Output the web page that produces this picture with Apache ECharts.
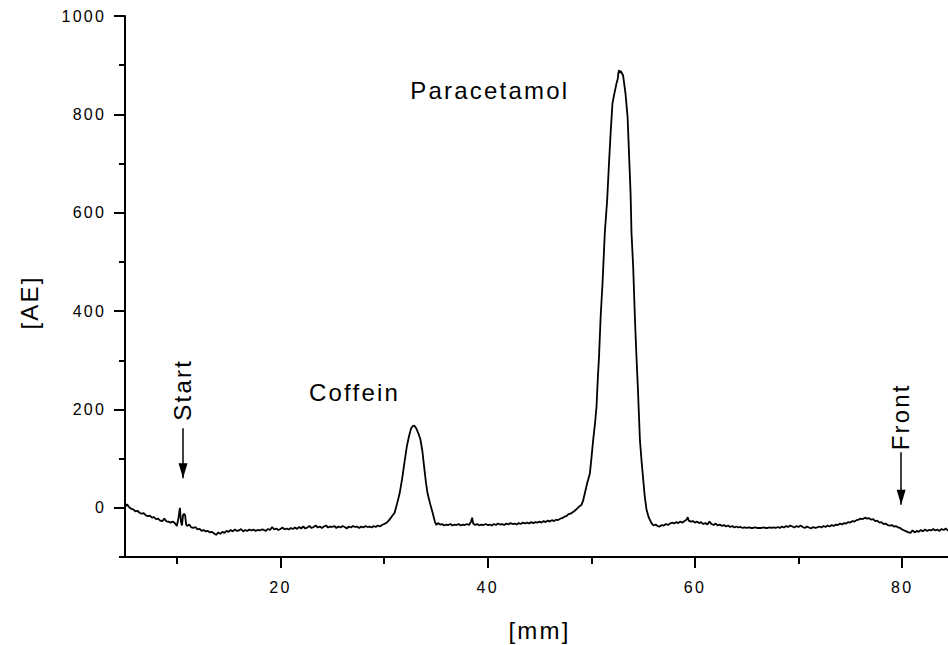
<!DOCTYPE html>
<html>
<head>
<meta charset="utf-8">
<script src="https://cdn.jsdelivr.net/npm/echarts@6/dist/echarts.min.js"></script>
<style>
  html, body { margin: 0; padding: 0; background: #fff; }
  #main { width: 948px; height: 645px; }
  #main text { letter-spacing: 2.2px; }
</style>
</head>
<body>
<div id="main"></div>
<script>
// ---- data ----
const xMajorTicks = [20, 40, 60, 80];
const xMinorTicks = [10, 30, 50, 70];
const yMajorTicks = [0, 200, 400, 600, 800, 1000];
const yMinorTicks = [-100, 100, 300, 500, 700, 900];

// densitogram trace: [position mm, signal AE]
const trace = [
[5.0,2],[5.2,7],[5.4,1],[5.6,-2],[5.8,-3],[6.0,-7],[6.2,-6],[6.4,-10],[6.6,-12],[6.8,-11],
[7.0,-15],[7.2,-17],[7.4,-16],[7.6,-20],[7.8,-19],[8.0,-23],[8.2,-22],[8.4,-26],[8.6,-27],[8.8,-22],
[9.0,-28],[9.2,-28],[9.4,-30],[9.6,-28],[9.8,-31],[10.0,-37],[10.15,-22],[10.3,0],[10.4,-28],[10.5,-36],
[10.6,-15],[10.7,-12],[10.8,-15],[10.9,-34],[11.0,-37],[11.2,-34],[11.4,-40],[11.6,-41],[11.8,-39],[12.0,-44],
[12.2,-43],[12.4,-47],[12.6,-45],[12.8,-48],[13.0,-47],[13.2,-50],[13.4,-49],[13.6,-52],[13.8,-55],[14.0,-50],
[14.2,-53],[14.4,-49],[14.6,-51],[14.8,-47],[15.0,-49],[15.2,-45],[15.4,-48],[15.6,-44],[15.8,-47],[16.0,-46],
[16.2,-43],[16.4,-48],[16.6,-45],[16.8,-47],[17.0,-44],[17.2,-46],[17.4,-44],[17.6,-47],[17.8,-45],[18.0,-46],
[18.2,-44],[18.4,-45],[18.6,-47],[18.8,-43],[19.0,-45],[19.2,-39],[19.4,-44],[19.6,-42],[19.8,-45],[20.0,-43],
[20.2,-40],[20.4,-44],[20.6,-42],[20.8,-44],[21.0,-41],[21.2,-43],[21.4,-40],[21.6,-43],[21.8,-39],[22.0,-42],
[22.2,-38],[22.4,-42],[22.6,-40],[22.8,-37],[23.0,-41],[23.2,-39],[23.4,-36],[23.6,-40],[23.8,-38],[24.0,-41],
[24.2,-38],[24.4,-36],[24.6,-40],[24.8,-38],[25.0,-39],[25.2,-37],[25.4,-41],[25.6,-38],[25.8,-40],[26.0,-37],
[26.2,-39],[26.4,-42],[26.6,-38],[26.8,-40],[27.0,-37],[27.2,-39],[27.4,-38],[27.6,-41],[27.8,-38],[28.0,-40],
[28.2,-37],[28.4,-39],[28.6,-38],[28.8,-40],[29.0,-37],[29.2,-39],[29.4,-36],[29.6,-38],[29.8,-35],[30.0,-33],
[30.2,-31],[30.4,-27],[30.6,-22],[30.8,-16],[31.0,-11],[31.25,8],[31.5,29],[31.75,60],[32.0,97],[32.2,125],
[32.4,145],[32.6,161],[32.75,166],[32.9,167],[33.1,162],[33.3,152],[33.5,140],[33.7,115],[33.9,77],[34.05,50],
[34.2,29],[34.45,8],[34.7,-11],[34.9,-28],[35.05,-35],[35.2,-31],[35.4,-34],[35.6,-33],[35.8,-36],[36.0,-34],
[36.2,-35],[36.4,-33],[36.6,-36],[36.8,-34],[37.0,-35],[37.2,-33],[37.4,-36],[37.6,-34],[37.8,-35],[38.0,-33],
[38.2,-35],[38.4,-28],[38.5,-20],[38.6,-32],[38.8,-35],[39.0,-33],[39.2,-36],[39.4,-34],[39.6,-35],[39.8,-33],
[40.0,-35],[40.2,-34],[40.4,-36],[40.6,-33],[40.8,-35],[41.0,-32],[41.2,-34],[41.4,-33],[41.6,-35],[41.8,-32],
[42.0,-34],[42.2,-31],[42.4,-33],[42.6,-32],[42.8,-34],[43.0,-31],[43.2,-33],[43.4,-30],[43.6,-32],[43.8,-30],
[44.0,-32],[44.2,-29],[44.4,-31],[44.6,-29],[44.8,-30],[45.0,-28],[45.2,-30],[45.4,-27],[45.6,-29],[45.8,-26],
[46.0,-28],[46.2,-25],[46.4,-27],[46.6,-24],[46.8,-25],[47.0,-22],[47.2,-21],[47.4,-18],[47.6,-17],[47.8,-13],
[48.0,-12],[48.2,-9],[48.4,-6],[48.6,-2],[48.8,2],[49.05,6],[49.2,14],[49.37,29],[49.6,50],[49.86,70],
[50.0,98],[50.18,138],[50.35,170],[50.5,205],[50.62,260],[50.75,310],[50.9,388],[51.08,456],[51.3,558],[51.53,626],
[51.72,706],[51.88,768],[52.04,822],[52.2,840],[52.43,863],[52.55,872],[52.62,885],[52.69,890],[52.75,884],[52.82,888],
[52.9,886],[53.07,879],[53.3,842],[53.5,795],[53.65,714],[53.79,639],[53.88,558],[54.04,490],[54.2,390],[54.33,321],
[54.5,240],[54.69,138],[54.85,95],[55.01,57],[55.15,25],[55.33,-4],[55.55,-20],[55.81,-31],[56.0,-36],[56.2,-34],
[56.4,-37],[56.6,-38],[56.8,-35],[57.0,-36],[57.2,-33],[57.4,-35],[57.6,-32],[57.8,-30],[58.0,-32],[58.2,-29],
[58.4,-31],[58.6,-28],[58.8,-30],[59.0,-27],[59.2,-24],[59.3,-19],[59.4,-26],[59.6,-28],[59.8,-27],[60.0,-30],
[60.2,-28],[60.4,-31],[60.6,-29],[60.8,-33],[61.0,-31],[61.2,-34],[61.4,-28],[61.6,-33],[61.8,-35],[62.0,-32],
[62.2,-36],[62.4,-34],[62.6,-37],[62.8,-35],[63.0,-38],[63.2,-36],[63.4,-39],[63.6,-37],[63.8,-40],[64.0,-38],
[64.2,-40],[64.4,-39],[64.6,-41],[64.8,-40],[65.0,-41],[65.2,-40],[65.4,-41],[65.6,-41],[65.8,-40],[66.0,-41],
[66.2,-41],[66.4,-41],[66.6,-40],[66.8,-41],[67.0,-41],[67.2,-40],[67.4,-41],[67.6,-40],[67.8,-41],[68.0,-39],
[68.2,-41],[68.4,-38],[68.6,-40],[68.8,-37],[69.0,-39],[69.2,-36],[69.4,-38],[69.6,-40],[69.8,-37],[70.0,-39],
[70.2,-36],[70.4,-39],[70.6,-41],[70.8,-38],[71.0,-40],[71.2,-42],[71.4,-39],[71.6,-41],[71.8,-40],[72.0,-38],
[72.2,-40],[72.4,-37],[72.6,-39],[72.8,-36],[73.0,-38],[73.2,-35],[73.4,-37],[73.6,-34],[73.8,-35],[74.0,-32],
[74.2,-34],[74.4,-31],[74.6,-32],[74.8,-29],[75.0,-30],[75.2,-27],[75.4,-28],[75.6,-25],[75.8,-24],[76.0,-22],
[76.2,-23],[76.4,-20],[76.6,-22],[76.8,-21],[77.0,-24],[77.2,-23],[77.4,-27],[77.6,-26],[77.8,-30],[78.0,-29],
[78.2,-33],[78.4,-32],[78.6,-35],[78.8,-36],[79.0,-35],[79.2,-38],[79.4,-37],[79.6,-40],[79.8,-41],[80.0,-44],
[80.2,-46],[80.4,-48],[80.6,-50],[80.8,-51],[81.0,-46],[81.2,-50],[81.4,-47],[81.6,-49],[81.8,-45],[82.0,-48],
[82.2,-44],[82.4,-47],[82.6,-45],[82.8,-46],[83.0,-43],[83.2,-46],[83.4,-44],[83.6,-47],[83.8,-43],[84.0,-45],
[84.2,-42],[84.4,-46],[84.6,-44],[84.8,-45],[85.0,-44]
];

// annotations (data coordinates)
const annoText = ['Paracetamol', 'Coffein', 'Start', 'Front'];
const annoX = [40.2, 27.15, 10.57, 79.8];
const annoY = [849, 235, 240, 185];
const annoVertical = [false, false, true, true];

// arrows (data coordinates): x, tail value, tip value
const arrowX = [10.6, 79.9];
const arrowFrom = [162, 113];
const arrowTo = [60, 6];

// ---- chart ----
const FONT = '"Liberation Sans", Arial, sans-serif';
const chart = echarts.init(document.getElementById('main'), null, { renderer: 'svg' });

const plain = v => String(v);

const baseX = {
  type: 'value', min: 5, max: 85, position: 'bottom',
  axisLine: { onZero: false, show: true, lineStyle: { color: '#000', width: 2 } },
  splitLine: { show: false }
};
const baseY = {
  type: 'value', min: -100, max: 1000, position: 'left',
  axisLine: { onZero: false, show: true, lineStyle: { color: '#000', width: 2 } },
  splitLine: { show: false }
};

const option = {
  animation: false,
  backgroundColor: '#fff',
  grid: { left: 125, right: -6, top: 16, bottom: 88, outerBoundsMode: 'none', containLabel: false },
  xAxis: [
    Object.assign({}, baseX, {
      name: '[mm]', nameLocation: 'middle', nameGap: 61,
      nameTextStyle: { fontFamily: FONT, fontSize: 24, color: '#000' },
      axisTick: { show: true, length: 11, lineStyle: { color: '#000', width: 2 }, customValues: xMajorTicks },
      axisLabel: { show: true, margin: 22, fontFamily: FONT, fontSize: 16, color: '#000',
                   customValues: xMajorTicks, formatter: plain }
    }),
    Object.assign({}, baseX, {
      axisLine: { onZero: false, show: false },
      axisTick: { show: true, length: 7, lineStyle: { color: '#000', width: 2 }, customValues: xMinorTicks },
      axisLabel: { show: false }
    })
  ],
  yAxis: [
    Object.assign({}, baseY, {
      name: '[AE]', nameLocation: 'middle', nameGap: 84, nameRotate: 90,
      nameTextStyle: { fontFamily: FONT, fontSize: 24, color: '#000', padding: [0, 32, 0, 0] },
      axisTick: { show: true, length: 11, lineStyle: { color: '#000', width: 2 }, customValues: yMajorTicks },
      axisLabel: { show: true, margin: 19, fontFamily: FONT, fontSize: 16, color: '#000',
                   customValues: yMajorTicks, formatter: plain }
    }),
    Object.assign({}, baseY, {
      axisLine: { onZero: false, show: false },
      axisTick: { show: true, length: 6, lineStyle: { color: '#000', width: 2 }, customValues: yMinorTicks },
      axisLabel: { show: false }
    })
  ],
  series: [{
    type: 'line',
    xAxisIndex: 0, yAxisIndex: 0,
    data: trace,
    showSymbol: false,
    symbol: 'none',
    lineStyle: { color: '#000', width: 1.8 },
    emphasis: { disabled: true },
    silent: true,
    markPoint: {
      silent: true,
      symbol: 'circle', symbolSize: 0,
      itemStyle: { color: 'rgba(0,0,0,0)' },
      data: annoText.map((t, i) => ({
        name: t, coord: [annoX[i], annoY[i]],
        label: {
          show: true, position: 'inside', formatter: t,
          rotate: annoVertical[i] ? 90 : 0,
          fontFamily: FONT, fontSize: 24, color: '#000'
        }
      }))
    },
    markLine: {
      silent: true,
      animation: false,
      symbol: ['none', 'triangle'],
      label: { show: false },
      lineStyle: { color: '#000', width: 1.5, type: 'solid' },
      emphasis: { disabled: true },
      data: arrowX.map((x, i) => [
        { coord: [x, arrowFrom[i]], symbol: 'none' },
        { coord: [x, arrowTo[i]], symbol: 'triangle', symbolSize: [9, 15], symbolOffset: [0, 7.5],
          itemStyle: { color: '#000' } }
      ])
    }
  }]
};
chart.setOption(option);
</script>
</body>
</html>
